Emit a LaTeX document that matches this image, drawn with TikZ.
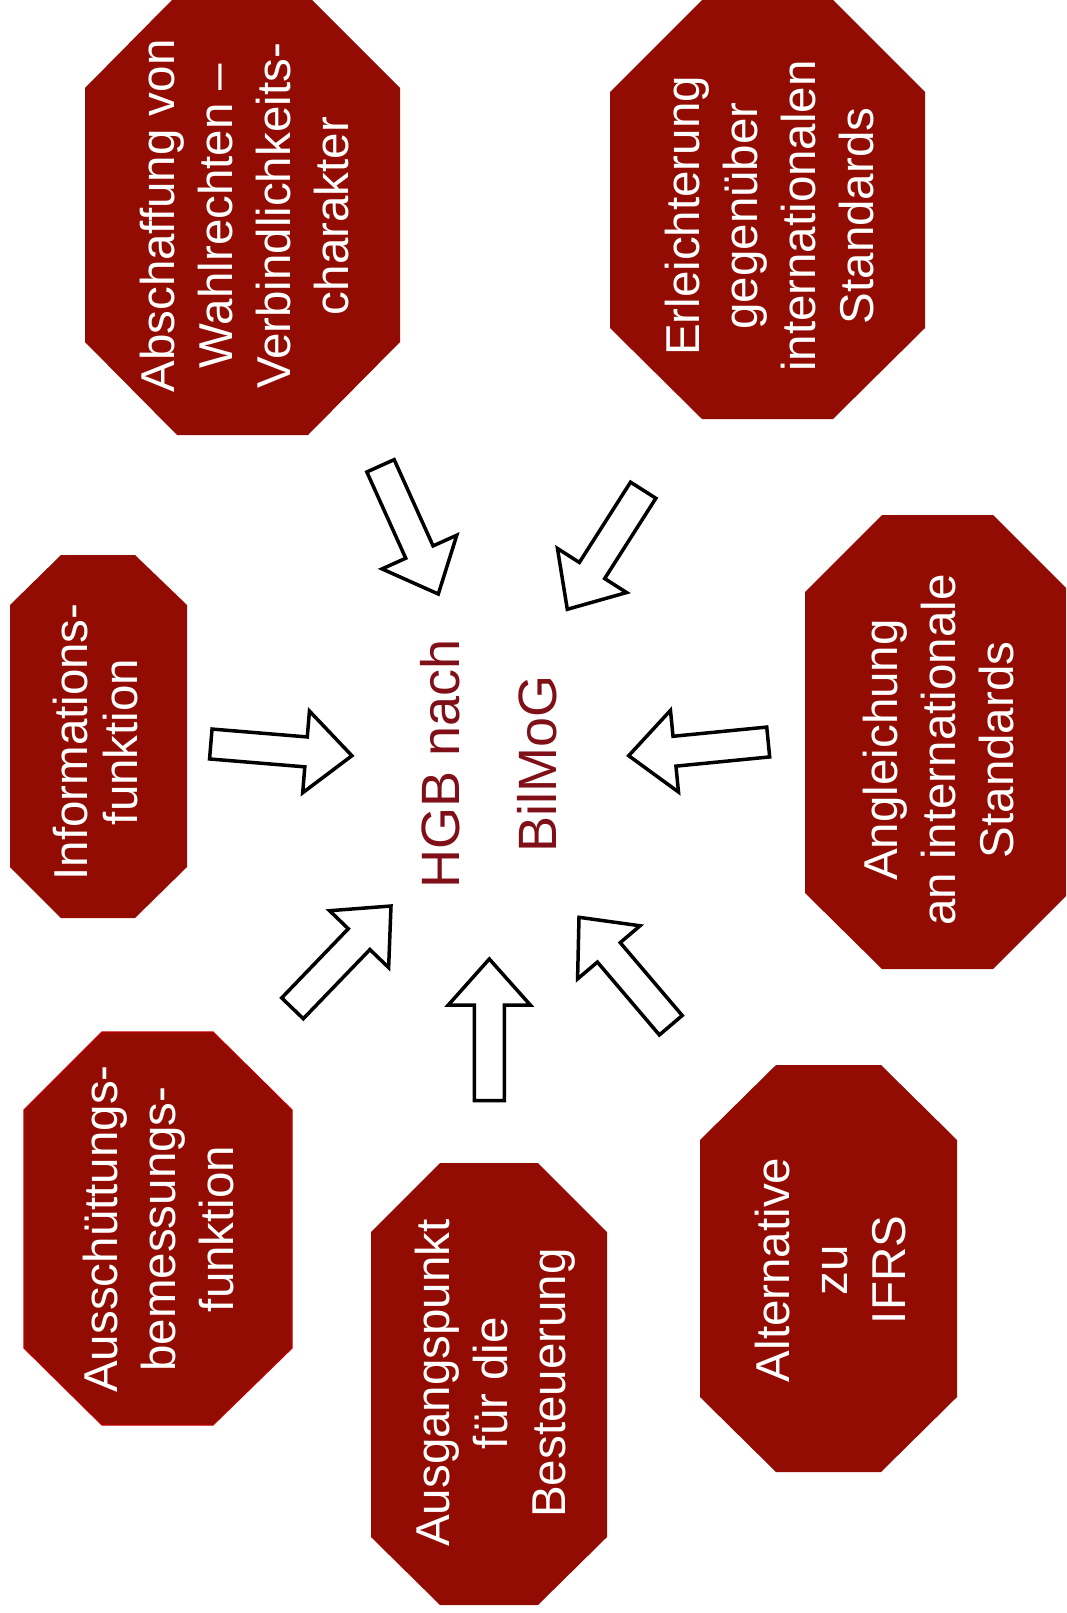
\documentclass[tikz,border=0pt]{standalone}
\usepackage{fontspec}
\setmainfont{Liberation Sans}
\usetikzlibrary{calc}
\definecolor{boxred}{RGB}{147,12,3}
\definecolor{hubred}{RGB}{128,16,24}
\newcommand\blockarrow[2]{%
  \coordinate (arrowbase) at ($(#2)!46pt!(#1)$);
  \draw[arrowshape] ($(#1)!15pt!90:(#2)$) -- ($(arrowbase)!15pt!-90:(#1)$)
    -- ($(arrowbase)!41pt!-90:(#1)$) -- (#2) -- ($(arrowbase)!41pt!90:(#1)$)
    -- ($(arrowbase)!15pt!90:(#1)$) -- ($(#1)!15pt!-90:(#2)$) -- cycle;}
\begin{document}
\begin{tikzpicture}[x=1pt,y=-1pt,
  octo/.style={fill=boxred},
  boxtext/.style={text=white, rotate=90, anchor=base, align=center, inner sep=0pt,
    font=\fontsize{47.5}{58}\selectfont},
  hubtext/.style={text=hubred, rotate=90, anchor=base, align=center, inner sep=0pt,
    font=\fontsize{54}{97}\selectfont},
  arrowshape/.style={draw=black, fill=white, line width=3.5pt, line join=miter}]
\useasboundingbox (0,0) rectangle (1066,1613);
% octagons
\fill[octo] (172,0) -- (312,0) -- (400,88) -- (400,342) -- (308,435) -- (177,435) -- (85,342) -- (85,88) -- cycle;
\fill[octo] (702,0) -- (833,0) -- (925,92) -- (925,328) -- (833,419) -- (702,419) -- (610,328) -- (610,92) -- cycle;
\fill[octo] (61,555) -- (135,555) -- (187,605) -- (187,867) -- (135,918) -- (61,918) -- (10,867) -- (10,605) -- cycle;
\fill[octo] (882,515) -- (993,515) -- (1066,588) -- (1066,896) -- (993,969) -- (882,969) -- (805,893) -- (805,592) -- cycle;
\filldraw[octo, draw=red!75!black, line width=1.2pt] (102,1032) -- (213,1032) -- (292,1110) -- (292,1348) -- (213,1425) -- (102,1425) -- (24,1348) -- (24,1110) -- cycle;
\fill[octo] (440,1163) -- (538,1163) -- (607,1232) -- (607,1537) -- (538,1605) -- (440,1605) -- (371,1537) -- (371,1232) -- cycle;
\fill[octo] (776,1065) -- (881,1065) -- (957,1140) -- (957,1397) -- (881,1472) -- (776,1472) -- (700,1397) -- (700,1140) -- cycle;
% texts (anchor base = baseline of the last line)
\node[boxtext] (abschaffung) at (348,216) {Abschaffung von\\Wahlrechten –\\Verbindlichkeits-\\charakter};
\node[boxtext] (erleichterung) at (873,216) {Erleichterung\\gegenüber\\internationalen\\Standards};
\node[boxtext, font=\fontsize{47.5}{50}\selectfont] (information) at (137,742) {Informations-\\funktion};
\node[boxtext] (angleichung) at (1013,750) {Angleichung\\an internationale\\Standards};
\node[boxtext] (ausschuettung) at (233,1229) {Ausschüttungs-\\bemessungs-\\funktion};
\node[boxtext] (ausgangspunkt) at (565,1383) {Ausgangspunkt\\für die\\Besteuerung};
\node[boxtext] (alternative) at (905,1270) {Alternative\\zu\\IFRS};
\node[hubtext] (hgb) at (556,764) {HGB nach\\BilMoG};
% arrows
\coordinate (a1t) at (380.5,465.8); \coordinate (a1h) at (438.3,594);
\coordinate (a2t) at (643.2,490.2); \coordinate (a2h) at (567.3,609.3);
\coordinate (a3t) at (210.8,744);   \coordinate (a3h) at (351.9,755.7);
\coordinate (a4t) at (768.2,742);   \coordinate (a4h) at (628.7,755.7);
\coordinate (a5t) at (292.5,1008.3); \coordinate (a5h) at (391,906);
\coordinate (a6t) at (489.3,1100.7); \coordinate (a6h) at (489.3,959);
\coordinate (a7t) at (670.8,1025.2); \coordinate (a7h) at (579,917.3);
\blockarrow{a1t}{a1h}
\blockarrow{a2t}{a2h}
\blockarrow{a3t}{a3h}
\blockarrow{a4t}{a4h}
\blockarrow{a5t}{a5h}
\blockarrow{a6t}{a6h}
\blockarrow{a7t}{a7h}
\end{tikzpicture}
\end{document}
